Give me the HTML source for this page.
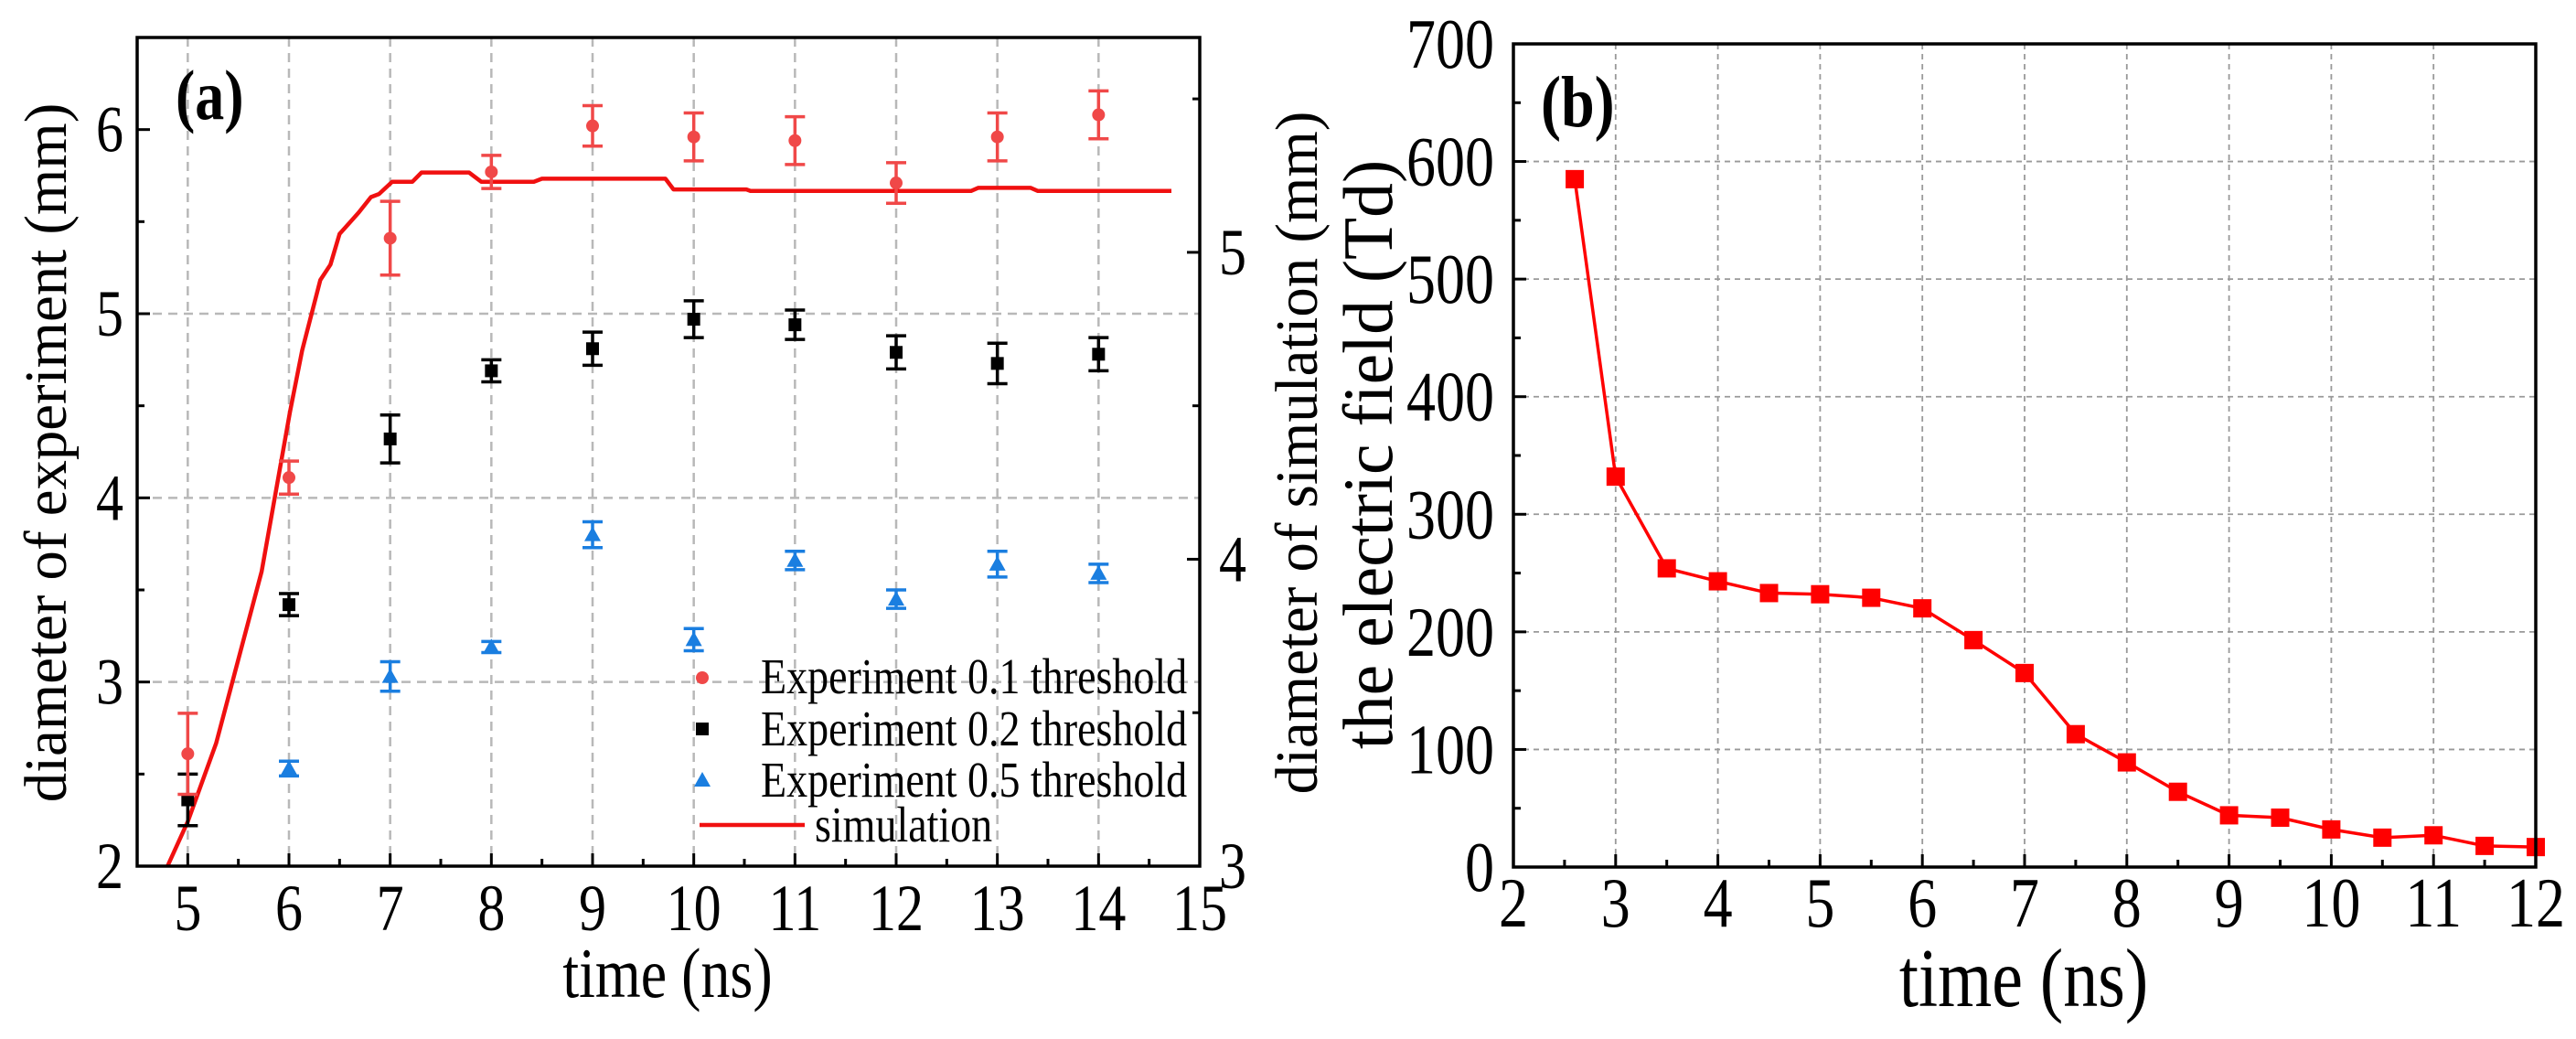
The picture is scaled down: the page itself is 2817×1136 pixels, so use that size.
<!DOCTYPE html>
<html><head><meta charset="utf-8"><style>
html,body{margin:0;padding:0;background:#fff;}
svg{display:block;font-family:"Liberation Serif",serif;}
</style></head><body>
<svg id="chart" width="2817" height="1136" viewBox="0 0 2817 1136" xmlns="http://www.w3.org/2000/svg"></svg>
<script>
// ---- Panel (a) data ----
const aTimes = [5,6,7,8,9,10,11,12,13,14];
const red01 = [2.61,4.11,5.41,5.77,6.02,5.96,5.94,5.71,5.96,6.08];
const red01Err = [0.22,0.09,0.20,0.09,0.11,0.13,0.13,0.11,0.13,0.13];
const blk02 = [2.36,3.42,4.32,4.69,4.81,4.97,4.94,4.79,4.73,4.78];
const blk02Err = [0.14,0.06,0.13,0.06,0.09,0.10,0.08,0.09,0.11,0.09];
const blueTimes = [6,7,8,9,10,11,12,13,14];
const blu05 = [2.53,3.03,3.19,3.80,3.23,3.66,3.45,3.64,3.59];
const blu05Err = [0.04,0.08,0.03,0.07,0.06,0.05,0.05,0.07,0.05];
const simT = [4.80,5.00,5.28,5.73,6.01,6.13,6.31,6.41,6.50,6.69,6.81,6.89,7.02,7.22,7.31,7.78,7.90,8.42,8.50,9.72,9.80,10.52,10.56,12.74,12.81,13.33,13.40,14.72];
const simD = [3.00,3.145,3.40,3.96,4.48,4.68,4.91,4.96,5.06,5.13,5.18,5.19,5.23,5.23,5.26,5.26,5.23,5.23,5.24,5.24,5.205,5.205,5.20,5.20,5.21,5.21,5.20,5.20];
const aXTicks = [5,6,7,8,9,10,11,12,13,14,15];
const aYTicks = [2,3,4,5,6];
const aY2Ticks = [3,4,5];
// ---- Panel (b) data ----
const bTimes = [2.6,3,3.5,4,4.5,5,5.5,6,6.5,7,7.5,8,8.5,9,9.5,10,10.5,11,11.5,12];
const bField = [585,332,254,243,233,232,229,220,193,165,113,89,64,44,42,32,25,27,18,17];
const bXTicks = [2,3,4,5,6,7,8,9,10,11,12];
const bYTicks = [0,100,200,300,400,500,600,700];

const svg = document.getElementById('chart');
const NS = 'http://www.w3.org/2000/svg';
function el(tag, attrs, parent){
  const e = document.createElementNS(NS, tag);
  for (const k in attrs) e.setAttribute(k, attrs[k]);
  (parent||svg).appendChild(e);
  return e;
}
function txt(x,y,s,size,anchor,rot,weight){
  const sy = rot ? 1.08 : 1.2;
  const sx = rot ? 1.1 : 1;
  const t = el('text',{transform:`translate(${x},${y}) scale(${sx},${sy})`+(rot?' rotate(-90)':''),'font-size':size,'text-anchor':anchor||'middle','fill':'#000','font-weight':weight||'normal'});
  t.textContent = s;
  return t;
}

// ===== Panel a =====
const aL=150,aR=1312,aT=41,aB=947;
const ax = v => aL + (v-4.5)/(15-4.5)*(aR-aL);
const ay = v => aB - (v-2)/(6.5-2)*(aB-aT);
const ay2 = v => aB - (v-3)/(5.7-3)*(aB-aT);

for (const t of aXTicks.slice(0,-1)){
  const g = el('line',{x1:ax(t),x2:ax(t),y1:aT,y2:aB,stroke:'#b8b8b8','stroke-width':2.5,'stroke-dasharray':'10,7'});
   
}
for (const t of [3,4,5]){
  const g = el('line',{x1:aL,x2:aR,y1:ay(t),y2:ay(t),stroke:'#b8b8b8','stroke-width':2.5,'stroke-dasharray':'10,7'});
   
}
for (let v=4.5; v<=15.001; v+=0.5){
  const maj = Math.abs(v-Math.round(v))<1e-6;
  el('line',{x1:ax(v),x2:ax(v),y1:aB,y2:aB-(maj?14:8),stroke:'#000','stroke-width':3});
}
for (let v=2; v<=6.5001; v+=0.5){
  const maj = Math.abs(v-Math.round(v))<1e-6;
  el('line',{x1:aL,x2:aL+(maj?14:8),y1:ay(v),y2:ay(v),stroke:'#000','stroke-width':3});
}
for (let v=3; v<=5.7001; v+=0.5){
  const maj = Math.abs(v-Math.round(v))<1e-6;
  el('line',{x1:aR,x2:aR-(maj?14:8),y1:ay2(v),y2:ay2(v),stroke:'#000','stroke-width':3});
}
let d='';
simT.forEach((t,i)=>{d+=(i?'L':'M')+ax(t)+','+ay2(simD[i]);});
const sim = el('path',{d:d,fill:'none',stroke:'#f01010','stroke-width':4.5,'stroke-linejoin':'round'});
 

function errbar(x,y,e,yf,color){
  el('line',{x1:x,x2:x,y1:yf(y-e),y2:yf(y+e),stroke:color,'stroke-width':3.5});
  el('line',{x1:x-11,x2:x+11,y1:yf(y-e),y2:yf(y-e),stroke:color,'stroke-width':3.5});
  el('line',{x1:x-11,x2:x+11,y1:yf(y+e),y2:yf(y+e),stroke:color,'stroke-width':3.5});
}
aTimes.forEach((t,i)=>{
  errbar(ax(t),blk02[i],blk02Err[i],ay,'#000');
  const m = el('rect',{x:ax(t)-7,y:ay(blk02[i])-7,width:14,height:14,fill:'#000'});
   
});
blueTimes.forEach((t,i)=>{
  errbar(ax(t),blu05[i],blu05Err[i],ay,'#1a7ee0');
  const x=ax(t),y=ay(blu05[i]);
  const m = el('polygon',{points:`${x},${y-9} ${x-9},${y+7} ${x+9},${y+7}`,fill:'#1a7ee0'});
   
});
aTimes.forEach((t,i)=>{
  errbar(ax(t),red01[i],red01Err[i],ay,'#f04848');
  const m = el('circle',{cx:ax(t),cy:ay(red01[i]),r:7,fill:'#f04848'});
   
});
const frameA = el('rect',{x:aL,y:aT,width:aR-aL,height:aB-aT,fill:'none',stroke:'#000','stroke-width':3.5});
 

aXTicks.forEach(t=>{txt(ax(t),1017,String(t),60,'middle');});
aYTicks.forEach(t=>{txt(135,ay(t)+24,String(t),60,'end');});
aY2Ticks.forEach(t=>{txt(1333,ay2(t)+24,String(t),60,'start');});
txt(730,1090,'time (ns)',64,'middle');
txt(72,495,'diameter of experiment (mm)',60,'middle',true);
txt(1440,495,'diameter of simulation (mm)',60,'middle',true);
txt(192,130,'(a)',64,'start',false,'bold');

const lg = el('g',{});
 
el('circle',{cx:768,cy:741,r:7,fill:'#f04848'},lg);
el('rect',{x:761,y:790,width:14,height:14,fill:'#000'},lg);
el('polygon',{points:'768,844 759,860 777,860',fill:'#1a7ee0'},lg);
el('line',{x1:765,x2:880,y1:902,y2:902,stroke:'#f01010','stroke-width':4.5},lg);
txt(832,758,'Experiment 0.1 threshold',46,'start');
txt(832,815,'Experiment 0.2 threshold',46,'start');
txt(832,871,'Experiment 0.5 threshold',46,'start');
txt(891,920,'simulation',46,'start');

// ===== Panel b =====
const bL=1655,bR=2773,bT=48,bB=948;
const bx = v => bL + (v-2)/(12-2)*(bR-bL);
const by = v => bB - v/700*(bB-bT);
bXTicks.slice(1,-1).forEach(t=>{
  const g = el('line',{x1:bx(t),x2:bx(t),y1:bT,y2:bB,stroke:'#999','stroke-width':1.8,'stroke-dasharray':'6,5'});
   
});
bYTicks.slice(1,-1).forEach(t=>{
  const g = el('line',{x1:bL,x2:bR,y1:by(t),y2:by(t),stroke:'#999','stroke-width':1.8,'stroke-dasharray':'6,5'});
   
});
for (let v=2; v<=12.001; v+=0.5){
  const maj = Math.abs(v-Math.round(v))<1e-6;
  el('line',{x1:bx(v),x2:bx(v),y1:bB,y2:bB-(maj?14:8),stroke:'#000','stroke-width':3});
}
for (let v=0; v<=700; v+=50){
  const maj = v%100===0;
  el('line',{x1:bL,x2:bL+(maj?14:8),y1:by(v),y2:by(v),stroke:'#000','stroke-width':3});
}
let d2='';
bTimes.forEach((t,i)=>{d2+=(i?'L':'M')+bx(t)+','+by(bField[i]);});
const ln = el('path',{d:d2,fill:'none',stroke:'#f00','stroke-width':3.5});
 
bTimes.forEach((t,i)=>{
  const m = el('rect',{x:bx(t)-10,y:by(bField[i])-10,width:20,height:20,fill:'#f00'});
   
});
const frameB = el('rect',{x:bL,y:bT,width:bR-bL,height:bB-bT,fill:'none',stroke:'#000','stroke-width':3.5});
 
bXTicks.forEach(t=>{txt(bx(t),1013,String(t),64,'middle');});
bYTicks.forEach(t=>{txt(1634,by(t)+26,String(t),64,'end');});
txt(2213,1100,'time (ns)',76,'middle');
txt(1522,497,'the electric field (Td)',70,'middle',true);
txt(1685,138,'(b)',66,'start',false,'bold');
</script>
</body></html>
